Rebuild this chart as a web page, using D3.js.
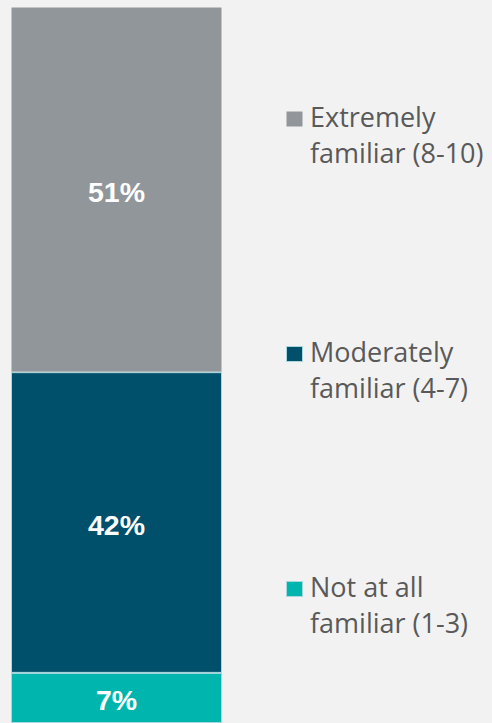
<!DOCTYPE html>
<html>
<head>
<meta charset="utf-8">
<script src="https://cdn.jsdelivr.net/npm/d3@7"></script>
<style>
  html, body { margin: 0; padding: 0; background: #f2f2f2; }
  svg { display: block; }
</style>
</head>
<body>
<div id="chart"></div>
<script>
// Familiarity shares, stacked from bottom to top
const categories = ["Not at all familiar (1-3)", "Moderately familiar (4-7)", "Extremely familiar (8-10)"];
const legendLines = [["Not at all", "familiar (1-3)"], ["Moderately", "familiar (4-7)"], ["Extremely", "familiar (8-10)"]];
const values = [7, 42, 51];
const colors = ["#00b5ad", "#004f6b", "#91969a"];
const strokes = ["#a8d8dc", "#a8d8dc", "none"];

const W = 492, H = 723;
const svg = d3.select("#chart").append("svg").attr("width", W).attr("height", H);
svg.append("rect").attr("width", W).attr("height", H).attr("fill", "#f2f2f2");

const y = d3.scaleLinear().domain([0, 100]).range([723, 7]);
const x = d3.scaleBand().domain(["all"]).range([11, 222]).padding(0);

let acc = 0;
const segs = values.map((v, i) => {
  const s = { i, v, y0: acc, y1: acc + v };
  acc += v;
  return s;
});

const g = svg.append("g");
g.selectAll("rect.seg").data(segs).enter().append("rect")
  .attr("class", "seg")
  .attr("x", x("all") + 0.5)
  .attr("width", x.bandwidth() - 1)
  .attr("y", d => y(d.y1) + 0.5)
  .attr("height", d => y(d.y0) - y(d.y1) - 1)
  .attr("fill", d => colors[d.i])
  .attr("stroke", d => strokes[d.i])
  .attr("stroke-width", 1);

g.selectAll("text.val").data(segs).enter().append("text")
  .attr("class", "val")
  .attr("x", x("all") + x.bandwidth() / 2)
  .attr("y", d => (y(d.y0) + y(d.y1)) / 2 + 12)
  .attr("text-anchor", "middle")
  .attr("fill", "#ffffff")
  .attr("font-family", "Liberation Sans, Arial, sans-serif")
  .attr("font-weight", "bold")
  .attr("font-size", 28.5)
  .text(d => d.v + "%");

// Legend, top entry first
const legendY = [597, 362, 127];
const leg = svg.append("g");
categories.forEach((c, i) => {
  const item = leg.append("g");
  item.append("rect")
    .attr("x", 286.5).attr("y", legendY[i] - 15.5)
    .attr("width", 16).attr("height", 15)
    .attr("fill", colors[i])
    .attr("stroke", strokes[i]);
  const t = item.append("text")
    .attr("font-family", "Open Sans, sans-serif")
    .attr("font-size", 27)
    .attr("fill", "#595959");
  legendLines[i].forEach((line, k) => {
    t.append("tspan").attr("x", 310).attr("y", legendY[i] + k * 36).text(line);
  });
});
</script>
</body>
</html>
